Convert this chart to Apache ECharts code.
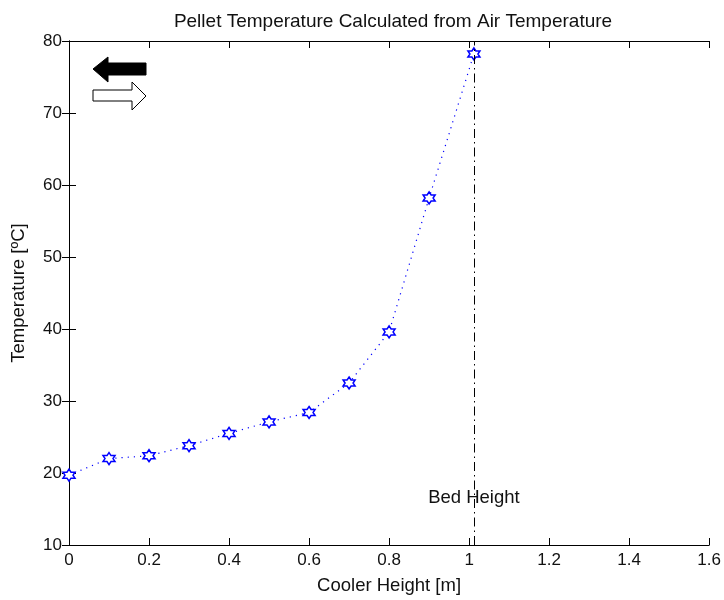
<!DOCTYPE html>
<html>
<head>
<meta charset="utf-8">
<style>html,body{margin:0;padding:0;background:#fff;}#chart{width:724px;height:600px;}</style>
<script src="https://cdn.jsdelivr.net/npm/echarts@6/dist/echarts.min.js"></script>
</head>
<body>
<div id="chart"></div>
<script>
// Cooler height [m] and calculated pellet temperature [ºC]
const heights = [0, 0.1, 0.2, 0.3, 0.4, 0.5, 0.6, 0.7, 0.8, 0.9, 1.012];
const temps = [19.7, 22.0, 22.4, 23.8, 25.5, 27.1, 28.4, 32.5, 39.6, 58.2, 78.2];
const bedHeight = 1.012;
const bedLabel = 'Bed Height';

const FONT = 'Liberation Sans, Arial, sans-serif';
const hexagram = 'path://M0,-10 L2.89,-5 L8.66,-5 L5.77,0 L8.66,5 L2.89,5 L0,10 L-2.89,5 L-8.66,5 L-5.77,0 L-8.66,-5 L-2.89,-5 Z';

const chart = echarts.init(document.getElementById('chart'));
const axisLine = { show: true, lineStyle: { color: '#000', width: 1 } };
const tickIn = { show: true, inside: true, length: 7, lineStyle: { color: '#000' } };

chart.setOption({
  backgroundColor: '#fff',
  animation: false,
  title: {
    text: 'Pellet Temperature Calculated from Air Temperature',
    left: 388, textAlign: 'center', top: 7,
    textStyle: { fontFamily: FONT, fontSize: 19, fontWeight: 'normal', color: '#111' }
  },
  grid: { left: 69, right: 11, top: 41, bottom: 53 },
  xAxis: [{
    type: 'value', min: 0, max: 1.6, interval: 0.2,
    name: 'Cooler Height [m]', nameLocation: 'middle', nameGap: 31,
    nameTextStyle: { fontFamily: FONT, fontSize: 18.5, color: '#111' },
    axisLine, axisTick: tickIn, splitLine: { show: false },
    axisLabel: { fontFamily: FONT, fontSize: 17, color: '#111', margin: 7, formatter: v => String(+v.toFixed(1)) }
  }, {
    type: 'value', min: 0, max: 1.6, interval: 0.2, position: 'top',
    axisLine, axisTick: tickIn, axisLabel: { show: false }, splitLine: { show: false }
  }],
  yAxis: [{
    type: 'value', min: 10, max: 80, interval: 10,
    name: 'Temperature [ºC]', nameLocation: 'middle', nameGap: 41,
    nameTextStyle: { fontFamily: FONT, fontSize: 18.5, color: '#111' },
    axisLine, axisTick: tickIn, splitLine: { show: false },
    axisLabel: { fontFamily: FONT, fontSize: 17, color: '#111', margin: 7 }
  }, {
    type: 'value', min: 10, max: 80, interval: 10, position: 'right',
    axisLine, axisTick: tickIn, axisLabel: { show: false }, splitLine: { show: false }
  }],
  series: [{
    type: 'line',
    data: heights.map((h, i) => [h, temps[i]]),
    symbol: hexagram, symbolSize: 12,
    itemStyle: { color: '#fff', borderColor: '#0000ff', borderWidth: 1.5 },
    lineStyle: { color: '#0000ff', width: 1.2, type: [1.2, 5] },
    markLine: {
      silent: true, symbol: 'none',
      lineStyle: { color: '#000', width: 1, type: [9, 4, 1.5, 4] },
      label: { show: false },
      data: [[{ coord: [bedHeight, 10] }, { coord: [bedHeight, 80] }]]
    },
    markPoint: {
      symbol: 'circle', symbolSize: 0,
      label: { show: true, formatter: bedLabel, fontFamily: FONT, fontSize: 18.5, color: '#111', position: 'inside' },
      data: [{ coord: [bedHeight, 16.6] }]
    }
  }],
  graphic: [
    { type: 'polygon', shape: { points: [[93, 69], [108, 57], [108, 63], [146, 63], [146, 75], [108, 75], [108, 82]] },
      style: { fill: '#000', stroke: '#000', lineWidth: 1 } },
    { type: 'polygon', shape: { points: [[93, 90], [132, 90], [132, 82], [146, 96], [132, 110], [132, 101], [93, 101]] },
      style: { fill: '#fff', stroke: '#000', lineWidth: 1 } }
  ]
});
</script>
</body>
</html>
